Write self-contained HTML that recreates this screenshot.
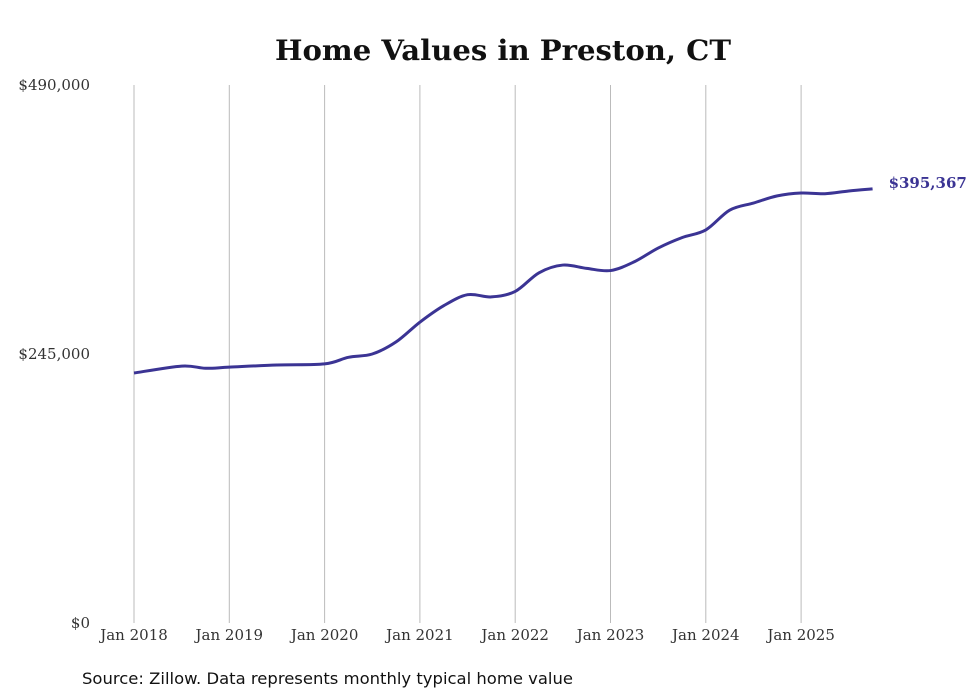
<!DOCTYPE html>
<html><head><meta charset="utf-8"><style>
body{margin:0;background:#fff;width:980px;height:699px;overflow:hidden}
svg{display:block}
</style></head><body>
<svg id="chart" width="980" height="699" xmlns="http://www.w3.org/2000/svg">
<text x="275" y="60" textLength="456" lengthAdjust="spacingAndGlyphs" font-family="'DejaVu Serif', 'Liberation Serif', serif" font-weight="bold" font-size="28" fill="#111">Home Values in Preston, CT</text>
<g id="grid"></g>
<g id="yaxis"></g>
<g id="xaxis"></g>
<path id="line" fill="none" stroke="#3b3494" stroke-width="3"/>
<text id="endlabel" font-family="'DejaVu Serif', 'Liberation Serif', serif" font-weight="bold" font-size="15" fill="#3b3494"></text>
<text x="82" y="684" textLength="491" lengthAdjust="spacingAndGlyphs" font-family="'DejaVu Sans', 'Liberation Sans', sans-serif" font-size="16" fill="#111">Source: Zillow. Data represents monthly typical home value</text>
</svg>
<script>
const months = [0,6,9,12,18,24,27,30,33,36,39,42,45,48,51,54,57,60,63,66,69,72,75,78,81,84,87,90,93];
const values = [227700,234000,232000,233000,235000,236000,242000,245000,256000,274000,289000,299000,297000,302000,319000,326000,323000,321000,329000,341500,351000,358000,376000,382500,389000,391600,391000,393500,395367];
const yTicks = [0,245000,490000];
const yTickLabels = ["$0","$245,000","$490,000"];
const xTickLabels = ["Jan 2018","Jan 2019","Jan 2020","Jan 2021","Jan 2022","Jan 2023","Jan 2024","Jan 2025"];
const endLabel = "$395,367";

const NS="http://www.w3.org/2000/svg";
const x0=134, pxPerMonth=95.3/12, yBase=623, yTop=85, yMax=490000;
const xs=m=>x0+m*pxPerMonth;
const ys=v=>yBase-v/yMax*(yBase-yTop);
function mk(tag,attrs,parent,txt){const e=document.createElementNS(NS,tag);for(const k in attrs)e.setAttribute(k,attrs[k]);if(txt!==undefined)e.textContent=txt;parent.appendChild(e);return e;}
const grid=document.getElementById('grid'),xa=document.getElementById('xaxis'),ya=document.getElementById('yaxis');
xTickLabels.forEach((l,i)=>{
  const x=xs(i*12);
  const g=mk('line',{x1:x,x2:x,y1:yTop,y2:yBase,stroke:'#bbb','stroke-width':1},grid);
  
  
  const t=mk('text',{x:x,y:640,'text-anchor':'middle','font-family':"'DejaVu Serif', 'Liberation Serif', serif",'font-size':15,fill:'#333'},xa,l);
  
  
});
yTicks.forEach((v,i)=>{
  const t=mk('text',{x:90,y:ys(v)+5,'text-anchor':'end','font-family':"'DejaVu Serif', 'Liberation Serif', serif",'font-size':15,fill:'#333'},ya,yTickLabels[i]);
  
  
});
const pts=months.map((m,i)=>[xs(m),ys(values[i])]);
let d=`M${pts[0][0]},${pts[0][1]}`;
for(let i=0;i<pts.length-1;i++){
  const p0=pts[Math.max(0,i-1)],p1=pts[i],p2=pts[i+1],p3=pts[Math.min(pts.length-1,i+2)];
  const c1=[p1[0]+(p2[0]-p0[0])/6,p1[1]+(p2[1]-p0[1])/6];
  const c2=[p2[0]-(p3[0]-p1[0])/6,p2[1]-(p3[1]-p1[1])/6];
  d+=` C${c1[0]},${c1[1]} ${c2[0]},${c2[1]} ${p2[0]},${p2[1]}`;
}
document.getElementById('line').setAttribute('d',d);
const last=pts[pts.length-1];
const el=document.getElementById('endlabel');
el.setAttribute('x',last[0]+16);el.setAttribute('y',last[1]-1);el.textContent=endLabel;
</script>
</body></html>
